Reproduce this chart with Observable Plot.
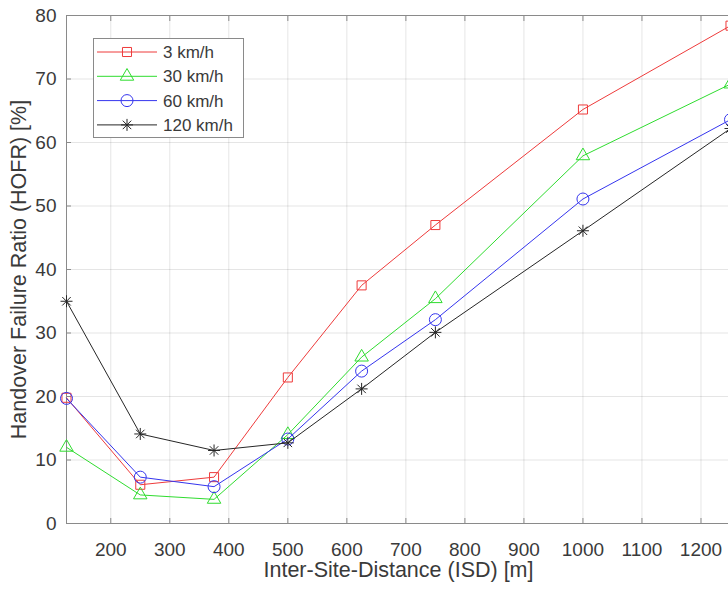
<!DOCTYPE html>
<html>
<head>
<meta charset="utf-8">
<script src="https://cdn.jsdelivr.net/npm/d3@7"></script>
<script src="https://cdn.jsdelivr.net/npm/@observablehq/plot@0.6"></script>
<style>
  html, body { margin: 0; padding: 0; background: #fff; }
</style>
</head>
<body>
<div id="chart"></div>
<script>
// Inter-site distance (m) and handover failure ratio (%) per UE speed
const isd = [125, 250, 375, 500, 625, 750, 1000, 1250];
const speeds = ["3 km/h", "30 km/h", "60 km/h", "120 km/h"];
const hofr3 = [19.8, 6.1, 7.3, 23.0, 37.5, 47.0, 65.2, 78.4];
const hofr30 = [12.0, 4.5, 3.8, 14.0, 26.2, 35.4, 57.9, 69.2];
const hofr60 = [19.7, 7.3, 5.8, 13.3, 24.0, 32.1, 51.1, 63.6];
const hofr120 = [35.0, 14.1, 11.5, 12.7, 21.2, 30.1, 46.1, 62.2];
const xTicks = [200, 300, 400, 500, 600, 700, 800, 900, 1000, 1100, 1200];
const yTicks = [0, 10, 20, 30, 40, 50, 60, 70, 80];
const xLabel = "Inter-Site-Distance (ISD) [m]";
const yLabel = "Handover Failure Ratio (HOFR) [%]";

// eight-armed asterisk marker (plus and cross combined)
const star8 = {
  draw(ctx, size) {
    const r = Math.sqrt(size / Math.PI);
    const d = r * Math.SQRT1_2;
    ctx.moveTo(-r, 0); ctx.lineTo(r, 0);
    ctx.moveTo(0, -r); ctx.lineTo(0, r);
    ctx.moveTo(-d, -d); ctx.lineTo(d, d);
    ctx.moveTo(-d, d); ctx.lineTo(d, -d);
  }
};

const seriesStyle = [
  { values: hofr3, color: "#ee3b3b", symbol: "square", r: 5.1 },
  { values: hofr30, color: "#2fdc2f", symbol: "triangle", r: 5.0 },
  { values: hofr60, color: "#3535ee", symbol: "circle", r: 6.0 },
  { values: hofr120, color: "#262626", symbol: star8, r: 6.0 }
];

const rows = speeds.map((speed, i) =>
  isd.map((x, j) => ({ speed, isd: x, hofr: seriesStyle[i].values[j] }))
);

const seriesMarks = rows.flatMap((data, i) => {
  const s = seriesStyle[i];
  return [
    Plot.line(data, { x: "isd", y: "hofr", stroke: s.color, strokeWidth: 1 }),
    Plot.dot(data, { x: "isd", y: "hofr", symbol: s.symbol, r: s.r, stroke: s.color, fill: "none", strokeWidth: 1 })
  ];
});

const axisColor = "#8a8a8a";
const textColor = "#3a3a3a";
const plain = d3.format("d");

const svg = Plot.plot({
  width: 728,
  height: 589,
  marginLeft: 66,
  marginRight: -2,
  marginTop: 15,
  marginBottom: 66,
  style: { fontFamily: "'Liberation Sans', Arial, Helvetica, sans-serif", fontSize: "19px", color: textColor, background: "#fff", overflow: "visible" },
  x: { domain: [125, 1250] },
  y: { domain: [0, 80] },
  marks: [
    Plot.gridX(xTicks, { stroke: "#000", strokeOpacity: 0.1 }),
    Plot.gridY(yTicks, { stroke: "#000", strokeOpacity: 0.1 }),
    Plot.frame({ stroke: axisColor }),
    // tick labels
    Plot.axisX(xTicks, { anchor: "bottom", tickSize: 0, tickPadding: 19, label: null, fill: textColor, tickFormat: plain }),
    Plot.axisY(yTicks, { anchor: "left", tickSize: 0, tickPadding: 10, label: null, fill: textColor, tickFormat: plain }),
    // inward tick marks
    Plot.axisX(xTicks, { anchor: "bottom", tickSize: 5, dy: -5, fill: "none", label: null, stroke: axisColor }),
    Plot.axisX(xTicks, { anchor: "top", tickSize: 5, dy: 5, fill: "none", label: null, stroke: axisColor }),
    Plot.axisY(yTicks, { anchor: "left", tickSize: 5, dx: 5, fill: "none", label: null, stroke: axisColor }),
    // axis titles
    Plot.text([xLabel], { frameAnchor: "bottom", textAnchor: "middle", lineAnchor: "middle", dy: 47, fontSize: 21.5, fill: textColor }),
    Plot.text([yLabel], { frameAnchor: "left", textAnchor: "middle", lineAnchor: "middle", rotate: -90, dx: -47, fontSize: 21.5, fill: textColor }),
    ...seriesMarks
  ]
});

// legend box in the upper left of the axes
const legend = d3.select(svg).append("g")
  .attr("font-family", "'Liberation Sans', Arial, Helvetica, sans-serif")
  .attr("font-size", 17)
  .attr("text-anchor", "start");
legend.append("rect")
  .attr("x", 93.5).attr("y", 38.5)
  .attr("width", 150).attr("height", 99)
  .attr("fill", "#fff").attr("stroke", axisColor);
const symbolType = s => s === "square" ? d3.symbolSquare
  : s === "triangle" ? d3.symbolTriangle
  : s === "circle" ? d3.symbolCircle : s;
speeds.forEach((speed, i) => {
  const s = seriesStyle[i];
  const y = 52 + i * 24.3;
  const g = legend.append("g");
  g.append("line")
    .attr("x1", 97).attr("x2", 157).attr("y1", y).attr("y2", y)
    .attr("stroke", s.color).attr("stroke-width", 1);
  g.append("path")
    .attr("transform", `translate(127,${y})`)
    .attr("d", d3.symbol(symbolType(s.symbol), Math.PI * s.r * s.r)())
    .attr("fill", "none").attr("stroke", s.color).attr("stroke-width", 1);
  g.append("text")
    .attr("x", 163).attr("y", y).attr("dy", "0.35em")
    .attr("fill", textColor)
    .text(speed);
});

document.getElementById("chart").append(svg);
</script>
</body>
</html>
